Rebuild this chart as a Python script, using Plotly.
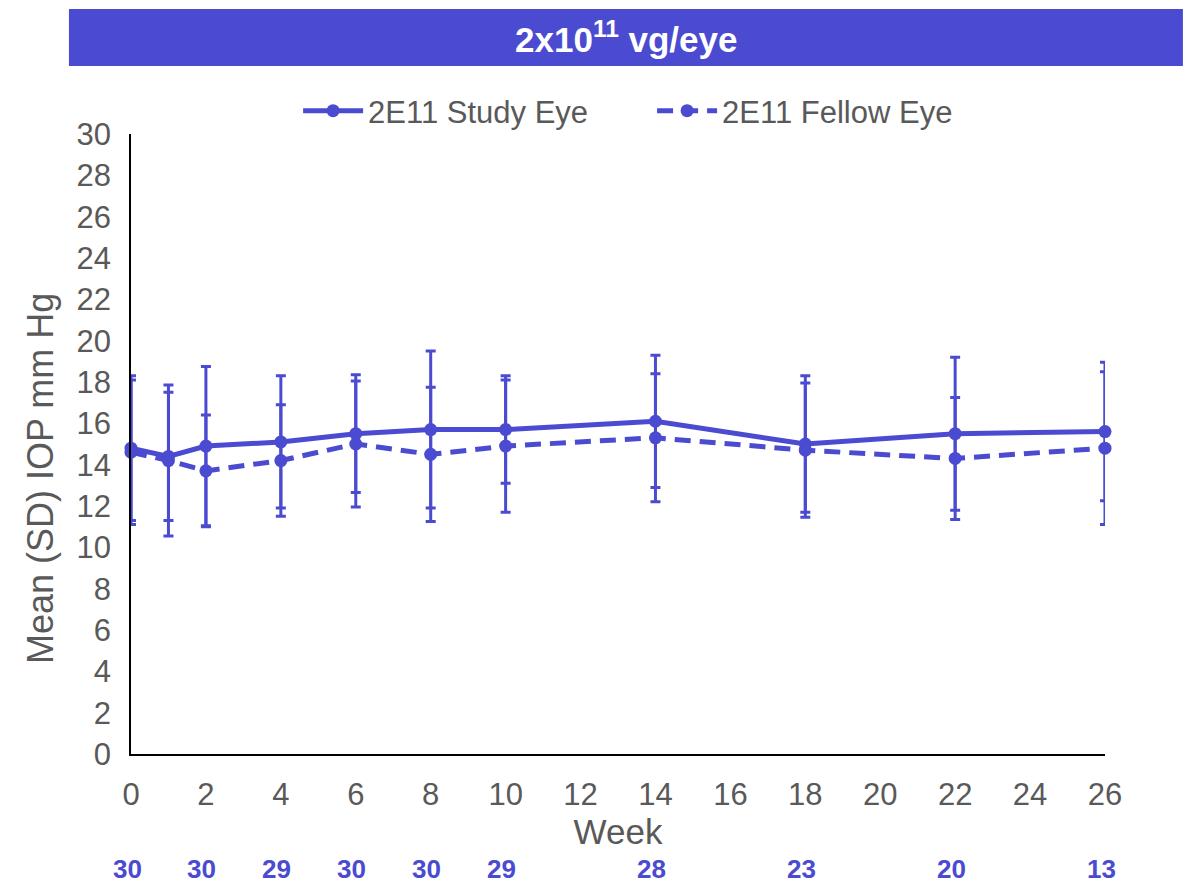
import plotly.graph_objects as go

weeks = [0, 1, 2, 4, 6, 8, 10, 14, 18, 22, 26]
study_mean = [14.8, 14.4, 14.9, 15.1, 15.5, 15.7, 15.7, 16.1, 15.0, 15.5, 15.6]
study_sd = [3.5, 3.1, 3.85, 3.2, 2.85, 3.8, 2.6, 3.2, 3.3, 3.7, 3.35]
fellow_mean = [14.6, 14.2, 13.7, 14.2, 15.0, 14.5, 14.9, 15.3, 14.7, 14.3, 14.8]
fellow_sd = [3.5, 3.65, 2.7, 2.7, 3.05, 3.25, 3.2, 3.1, 3.25, 2.95, 3.7]
n_weeks = [0, 2, 4, 6, 8, 10, 14, 18, 22, 26]
n_counts = [30, 30, 29, 30, 30, 29, 28, 23, 20, 13]
x_ticks = list(range(0, 27, 2))
y_ticks = list(range(0, 31, 2))

PURPLE = "#4B4BD1"
GRAY = "#595959"
FONT = "Liberation Sans, Arial, sans-serif"

fig = go.Figure()
fig.add_trace(go.Scatter(
    x=weeks, y=study_mean, name="2E11 Study Eye", mode="lines+markers",
    line=dict(color=PURPLE, width=5),
    marker=dict(color=PURPLE, size=13, symbol="circle"),
    error_y=dict(type="data", array=study_sd, visible=True, color=PURPLE, thickness=3, width=5),
    cliponaxis=False,
))
fig.add_trace(go.Scatter(
    x=weeks, y=fellow_mean, name="2E11 Fellow Eye", mode="lines+markers",
    line=dict(color=PURPLE, width=5, dash="16px,9px"),
    marker=dict(color=PURPLE, size=13, symbol="circle"),
    error_y=dict(type="data", array=fellow_sd, visible=True, color=PURPLE, thickness=3, width=5),
    cliponaxis=False,
))

annotations = [
    dict(text="<b>2x10<sup>11</sup> vg/eye</b>", x=0.508, y=1.157, xref="paper", yref="paper",
         showarrow=False, font=dict(family=FONT, size=35, color="white"),
         xanchor="center", yanchor="middle"),
    dict(text="Mean (SD) IOP mm Hg", x=-0.0934, y=0.4435, xref="paper", yref="paper",
         showarrow=False, textangle=-90, font=dict(family=FONT, size=36, color=GRAY),
         xanchor="center", yanchor="middle"),
]
for w, c in zip(n_weeks, n_counts):
    annotations.append(dict(text=f"<b>{c}</b>", x=w, y=-0.185, xref="x", yref="paper",
                            showarrow=False, xshift=-4,
                            font=dict(family=FONT, size=26, color=PURPLE),
                            xanchor="center", yanchor="middle"))

fig.update_layout(
    width=1183, height=884,
    margin=dict(l=131, r=78, t=134, b=130),
    plot_bgcolor="white", paper_bgcolor="white",
    font=dict(family=FONT, color=GRAY, size=31),
    showlegend=True,
    legend=dict(orientation="h", x=0.535, xanchor="center", y=1.037, yanchor="middle",
                font=dict(family=FONT, size=31, color=GRAY), itemwidth=60,
                entrywidth=279, entrywidthmode="pixels",
                bgcolor="rgba(0,0,0,0)"),
    shapes=[dict(type="rect", xref="paper", yref="paper", x0=-0.0637, x1=1.08,
                 y0=1.1097, y1=1.2016, fillcolor=PURPLE, line=dict(width=0), layer="below")],
    annotations=annotations,
    xaxis=dict(range=[0, 26], tickvals=x_ticks, showgrid=False, zeroline=False,
               showline=True, linecolor="black", linewidth=1.5,
               ticks="", ticklabelstandoff=12,
               tickfont=dict(family=FONT, size=31, color=GRAY),
               title=dict(text="Week", font=dict(family=FONT, size=35, color=GRAY), standoff=8)),
    yaxis=dict(range=[0, 30], tickvals=y_ticks, showgrid=False, zeroline=False,
               showline=True, linecolor="black", linewidth=1.5,
               ticks="", ticklabelstandoff=12,
               tickfont=dict(family=FONT, size=31, color=GRAY)),
)

fig.write_html("out.html")
